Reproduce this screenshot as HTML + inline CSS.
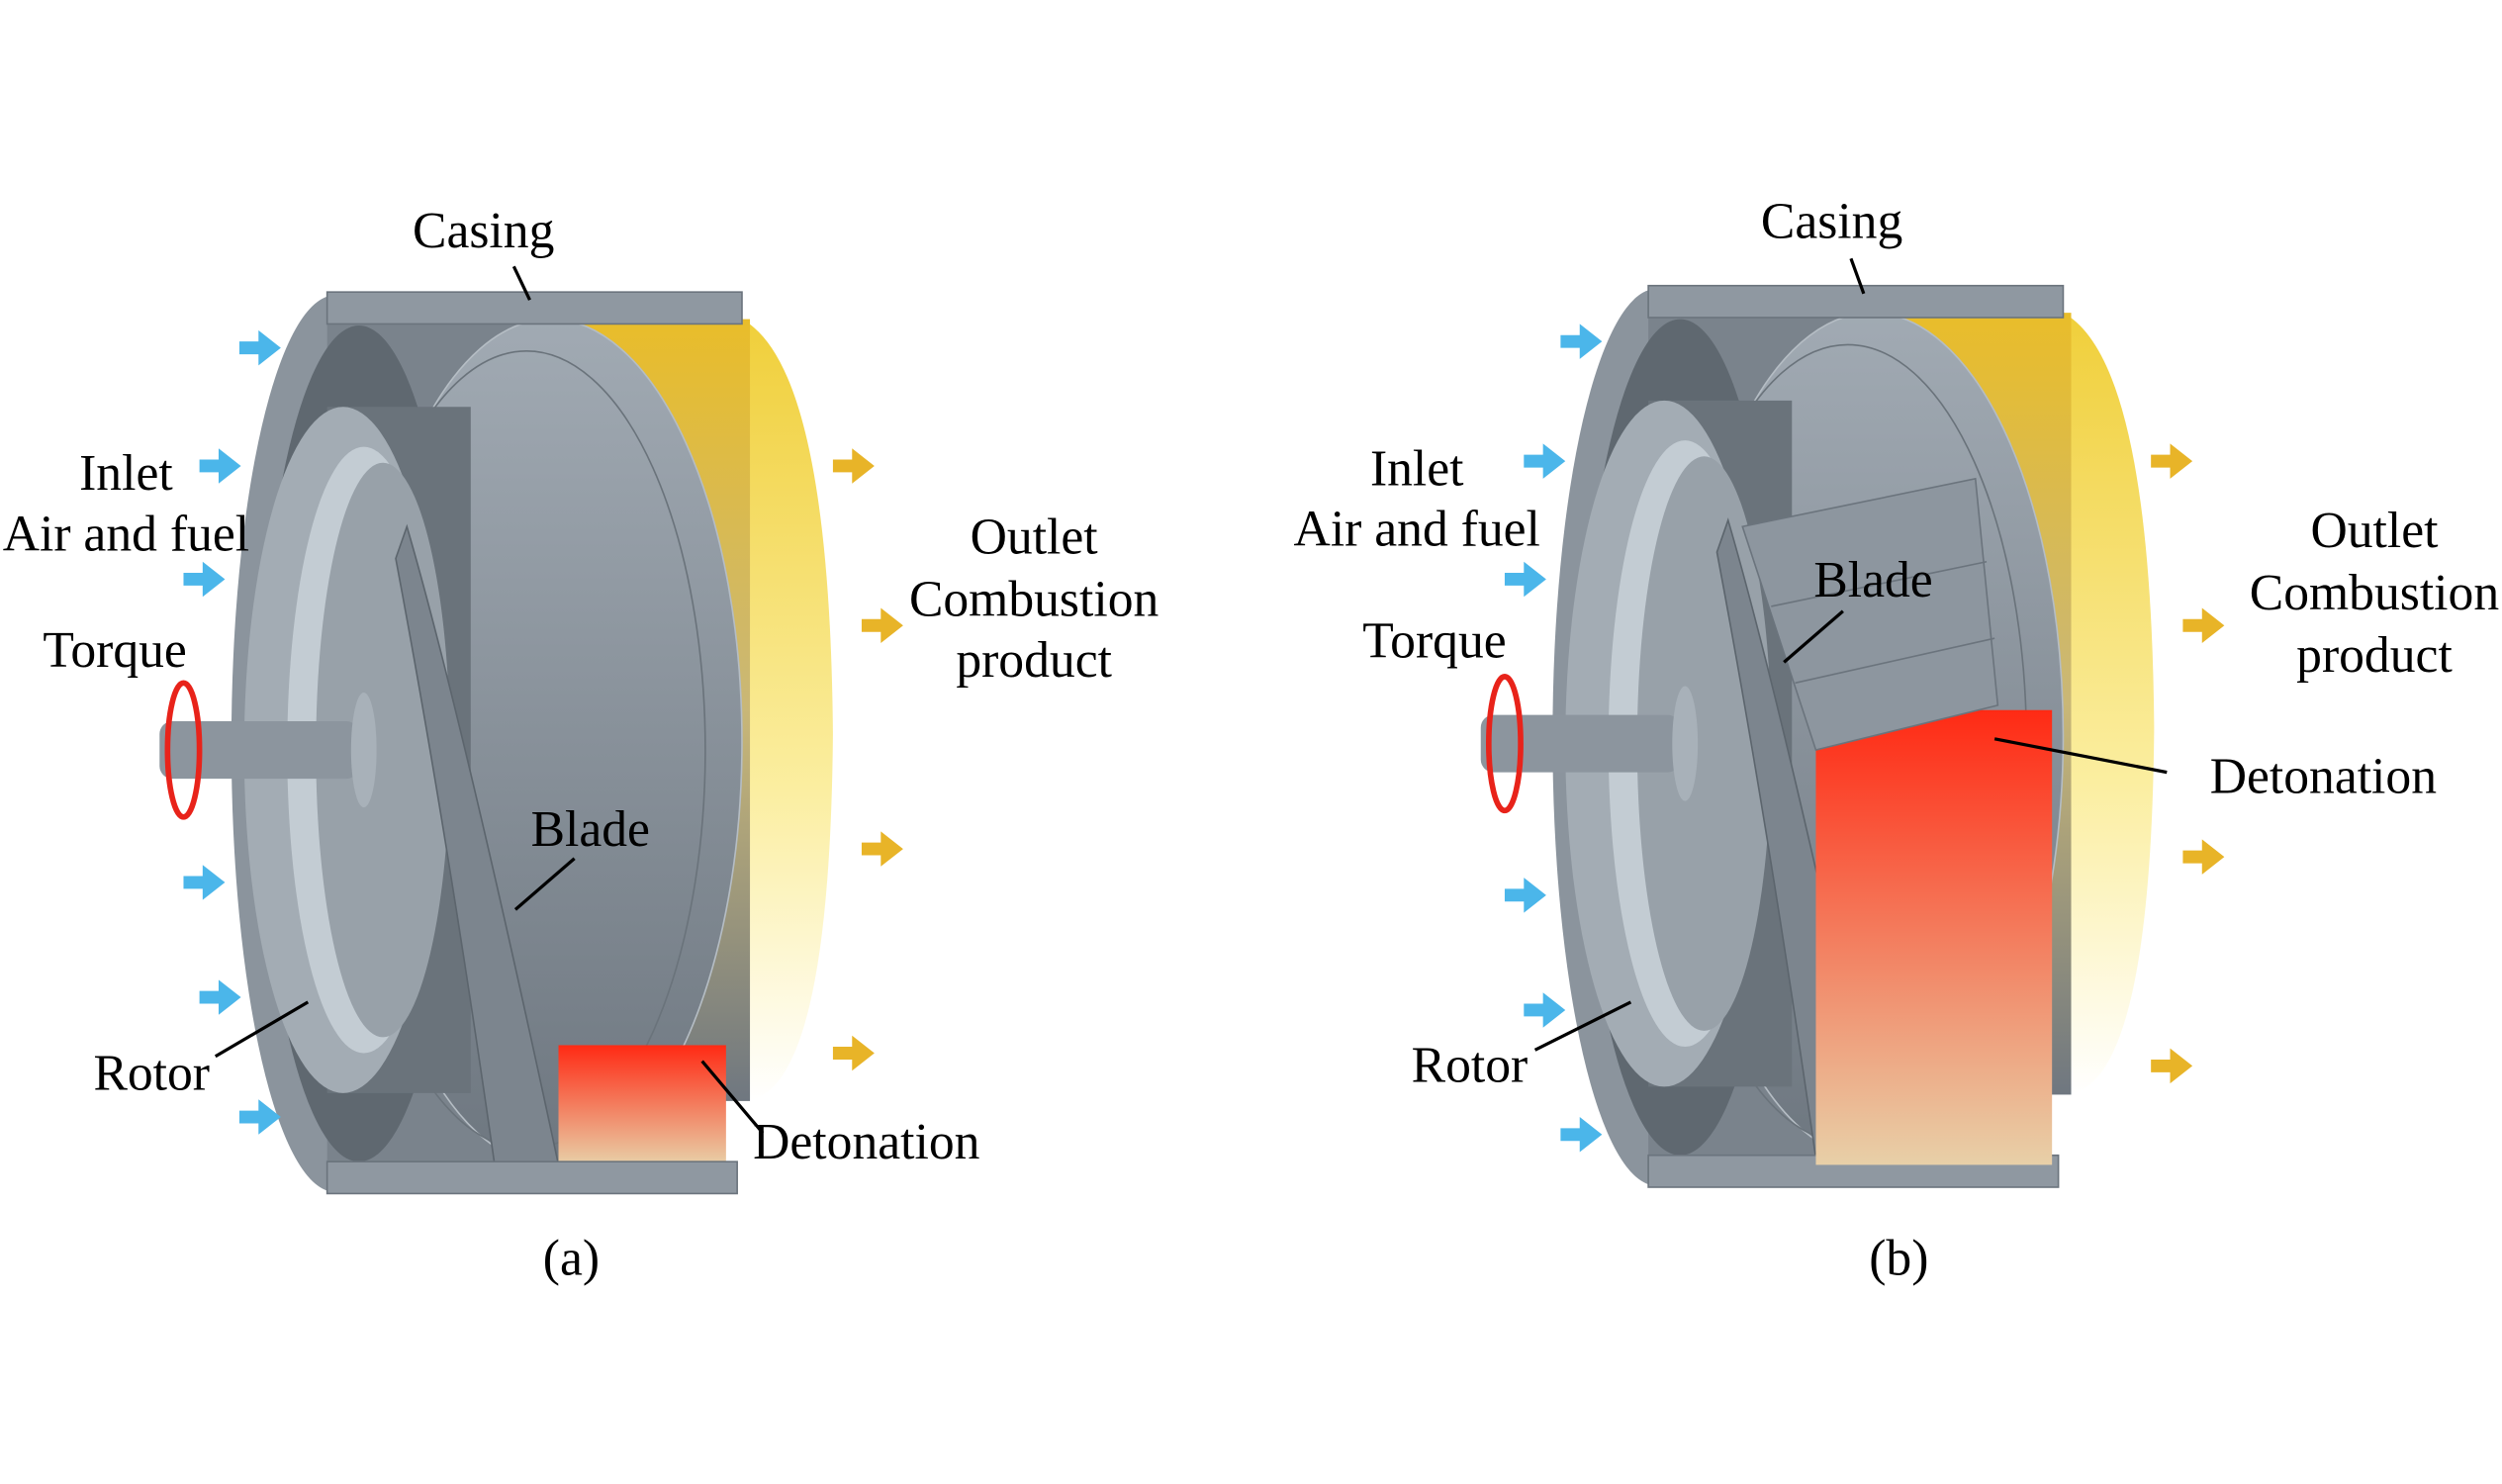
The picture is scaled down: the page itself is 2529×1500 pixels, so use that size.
<!DOCTYPE html>
<html><head><style>html,body{margin:0;padding:0;background:#fff}svg{display:block}</style></head><body>
<svg width="2529" height="1500" viewBox="0 0 1568 930" xmlns="http://www.w3.org/2000/svg" font-family="Liberation Serif, serif" font-size="32">
<defs>
<linearGradient id="yel" x1="0" y1="0" x2="0" y2="1"><stop offset="0" stop-color="#e9bd2a"/><stop offset="0.5" stop-color="#c9b777"/><stop offset="1" stop-color="#6f7780"/></linearGradient>
<linearGradient id="yel2" x1="0" y1="0" x2="0" y2="1"><stop offset="0" stop-color="#f0cf3a"/><stop offset="0.6" stop-color="#fbeea0"/><stop offset="1" stop-color="#ffffff"/></linearGradient>
<linearGradient id="red" x1="0" y1="0" x2="0" y2="1"><stop offset="0" stop-color="#ff2a14"/><stop offset="1" stop-color="#e8d0a8"/></linearGradient>
<linearGradient id="disc" x1="0" y1="0" x2="0" y2="1"><stop offset="0" stop-color="#a1aab3"/><stop offset="1" stop-color="#6e7780"/></linearGradient>
<g id="arrB"><path d="M0,-4 h12 v-7 l14,11 l-14,11 v-7 h-12z" fill="#4bb6ea"/></g>
<g id="arrY"><path d="M0,-4 h12 v-7 l14,11 l-14,11 v-7 h-12z" fill="#e8b428"/></g>
<g id="mach">
  <path d="M465,200 Q520,230 522,460 Q520,690 465,690 Z" fill="url(#yel2)"/>
  <rect x="330" y="200" width="140" height="490" fill="url(#yel)"/>
  <ellipse cx="210" cy="466" rx="65" ry="281" fill="#8b949d"/>
  <rect x="205" y="186" width="135" height="560" fill="#7a838c"/>
  <ellipse cx="225" cy="466" rx="62" ry="262" fill="#5f6870"/>
  <ellipse cx="345" cy="465" rx="120" ry="265" fill="url(#disc)" stroke="#b5bdc4"/>
  <ellipse cx="330" cy="470" rx="112" ry="250" fill="none" stroke="#6a737b"/>
  <path d="M205,255 h90 v430 h-90z" fill="#6a737b"/>
  <ellipse cx="215" cy="470" rx="62" ry="215" fill="#a3acb4"/>
  <ellipse cx="228" cy="470" rx="48" ry="190" fill="#c3ccd3"/>
  <ellipse cx="240" cy="470" rx="42" ry="180" fill="#98a1a9"/>
  <path d="M255,330 Q290,450 350,730 L310,730 Q280,520 248,350Z" fill="#7c858e" stroke="#5c656d"/>
  <rect x="350" y="655" width="105" height="75" fill="url(#red)"/>
  <rect x="205" y="183" width="260" height="20" fill="#8f98a1" stroke="#6b747d"/>
  <rect x="205" y="728" width="257" height="20" fill="#8f98a1" stroke="#6b747d"/>
  <rect x="100" y="452" width="125" height="36" rx="8" fill="#8c959e"/>
  <ellipse cx="228" cy="470" rx="8" ry="36" fill="#a8b1b9"/>
  <ellipse cx="115" cy="470" rx="10" ry="42" fill="none" stroke="#e8231a" stroke-width="3.5"/>
</g>
</defs>
<use href="#mach"/>
<use href="#arrB" x="150" y="218"/><use href="#arrB" x="125" y="292"/><use href="#arrB" x="115" y="363"/>
<use href="#arrB" x="115" y="553"/><use href="#arrB" x="125" y="625"/><use href="#arrB" x="150" y="700"/>
<use href="#arrY" x="522" y="292"/><use href="#arrY" x="540" y="392"/><use href="#arrY" x="540" y="532"/><use href="#arrY" x="522" y="660"/>
<g text-anchor="middle" fill="#000">
<text x="303" y="155">Casing</text><text x="79" y="307">Inlet</text><text x="79" y="345">Air and fuel</text>
<text x="72" y="418">Torque</text><text x="370" y="530">Blade</text><text x="95" y="683">Rotor</text>
<text x="543" y="726">Detonation</text><text x="648" y="347">Outlet</text><text x="648" y="386">Combustion</text>
<text x="648" y="424">product</text><text x="358" y="799">(a)</text>
</g>
<g stroke="#000" stroke-width="2"><line x1="322" y1="167" x2="332" y2="188"/><line x1="360" y1="538" x2="323" y2="570"/>
<line x1="135" y1="662" x2="193" y2="628"/><line x1="440" y1="665" x2="478" y2="710"/></g>

<use href="#mach" transform="translate(828,-4)"/>
<rect x="1138" y="445" width="148" height="285" fill="url(#red)"/>
<path d="M1092,330 L1238,300 L1252,442 L1138,470Z" fill="#8d969f" stroke="#6b747d"/>
<line x1="1110" y1="380" x2="1245" y2="352" stroke="#6b747d"/>
<line x1="1125" y1="428" x2="1250" y2="400" stroke="#6b747d"/>
<use href="#arrB" x="978" y="214"/><use href="#arrB" x="955" y="289"/><use href="#arrB" x="943" y="363"/>
<use href="#arrB" x="943" y="561"/><use href="#arrB" x="955" y="633"/><use href="#arrB" x="978" y="711"/>
<use href="#arrY" x="1348" y="289"/><use href="#arrY" x="1368" y="392"/><use href="#arrY" x="1368" y="537"/><use href="#arrY" x="1348" y="668"/>
<g text-anchor="middle" fill="#000">
<text x="1148" y="149">Casing</text><text x="888" y="304">Inlet</text><text x="888" y="342">Air and fuel</text>
<text x="899" y="412">Torque</text><text x="1174" y="374">Blade</text><text x="921" y="678">Rotor</text>
<text x="1456" y="497">Detonation</text><text x="1488" y="343">Outlet</text><text x="1488" y="382">Combustion</text>
<text x="1488" y="421">product</text><text x="1190" y="799">(b)</text>
</g>
<g stroke="#000" stroke-width="2"><line x1="1160" y1="162" x2="1168" y2="184"/><line x1="1155" y1="383" x2="1118" y2="415"/>
<line x1="962" y1="658" x2="1022" y2="628"/><line x1="1250" y1="463" x2="1358" y2="484"/></g>
</svg>
</body></html>
